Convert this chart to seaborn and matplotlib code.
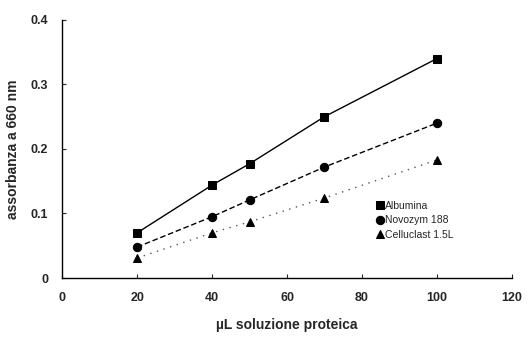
import numpy as np
import pandas as pd
import matplotlib
matplotlib.use('Agg')
import matplotlib.pyplot as plt
import seaborn as sns

# Values
volumes = [20, 40, 50, 70, 100]
albumina = [0.070, 0.144, 0.177, 0.250, 0.340]
novozym = [0.048, 0.095, 0.121, 0.172, 0.240]
celluclast = [0.031, 0.070, 0.087, 0.124, 0.183]
series_names = ['Albumina', 'Novozym 188', 'Celluclast 1.5L']
x_ticks = [0, 20, 40, 60, 80, 100, 120]
y_ticks = [0, 0.1, 0.2, 0.3, 0.4]
y_tick_labels = ['0', '0.1', '0.2', '0.3', '0.4']

df = pd.DataFrame({
    'volume': volumes * 3,
    'abs': albumina + novozym + celluclast,
    'series': np.repeat(series_names, len(volumes)),
})

sns.set_style('ticks')
plt.rcParams['font.family'] = ['Liberation Sans', 'DejaVu Sans']

fig = plt.figure(figsize=(5.31, 3.42), dpi=100)
ax = fig.add_axes([0.117, 0.187, 0.847, 0.755])

styles = {
    'Albumina': dict(marker='s', linestyle='-', color='black', lw=1.0, ms=5.5),
    'Novozym 188': dict(marker='o', linestyle=(0, (4, 2)), color='black', lw=1.0, ms=6),
    'Celluclast 1.5L': dict(marker='^', linestyle=(0, (1, 4)), color='#555555', lw=1.0, ms=6),
}

for name in series_names:
    st = styles[name]
    sns.lineplot(data=df[df['series'] == name], x='volume', y='abs', ax=ax,
                 label=name, color=st['color'], linestyle=st['linestyle'],
                 linewidth=st['lw'], marker=st['marker'], markersize=st['ms'],
                 markerfacecolor='black', markeredgecolor='black')

ax.set_xlim(0, 120)
ax.set_ylim(0, 0.4)
ax.set_xticks(x_ticks)
ax.set_yticks(y_ticks)
ax.set_yticklabels(y_tick_labels)
ax.tick_params(axis='both', direction='in', length=3, labelsize=9, pad=10, width=0.8)
for lab in ax.get_xticklabels() + ax.get_yticklabels():
    lab.set_fontweight('bold')
sns.despine(ax=ax)
for sp in ['left', 'bottom']:
    ax.spines[sp].set_linewidth(1.0)
    ax.spines[sp].set_color('black')

ax.set_xlabel('µL soluzione proteica', fontsize=10, fontweight='bold', labelpad=10)
ax.set_ylabel('assorbanza a 660 nm', fontsize=10, fontweight='bold', labelpad=8)

leg = ax.legend(loc='upper left', bbox_to_anchor=(0.70, 0.30), frameon=False,
                borderaxespad=0, borderpad=0,
                handlelength=0.6, handletextpad=0.2, labelspacing=0.45,
                prop={'size': 7.5})
for h in leg.legend_handles:
    h.set_linestyle('none')

fig.savefig('out.png', dpi=100)
